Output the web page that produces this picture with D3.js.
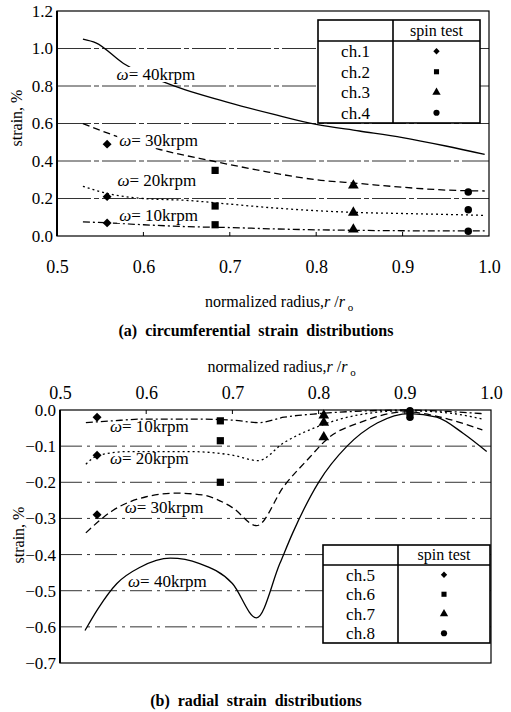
<!DOCTYPE html>
<html>
<head>
<meta charset="utf-8">
<script src="https://cdn.jsdelivr.net/npm/d3@7"></script>
<style>
  body { margin: 0; background: #fff; }
  svg { display: block; font-family: "Liberation Serif", "DejaVu Serif", serif; }
  svg text { font-family: "Liberation Serif", "DejaVu Serif", serif; }
</style>
</head>
<body>
<svg id="chart" width="511" height="712"></svg>
<script>
// ---- data ----
var radiusTicks = [0.5, 0.6, 0.7, 0.8, 0.9, 1.0];
var circTicks = [0.0, 0.2, 0.4, 0.6, 0.8, 1.0, 1.2];
var radialTicks = [0.0, -0.1, -0.2, -0.3, -0.4, -0.5, -0.6, -0.7];
var speedNames = ["10krpm", "20krpm", "30krpm", "40krpm"];

// circumferential strain, simulated curves [r/r0, strain %]
var circ10 = [[0.53,0.075],[0.56,0.07],[0.6,0.06],[0.65,0.05],[0.7,0.045],[0.75,0.038],[0.8,0.033],[0.85,0.03],[0.9,0.028],[0.95,0.027],[0.995,0.027]];
var circ20 = [[0.53,0.265],[0.56,0.225],[0.6,0.20],[0.65,0.19],[0.7,0.17],[0.75,0.15],[0.8,0.135],[0.85,0.125],[0.9,0.12],[0.95,0.115],[0.995,0.11]];
var circ30 = [[0.53,0.60],[0.57,0.53],[0.62,0.46],[0.68,0.40],[0.74,0.345],[0.8,0.30],[0.85,0.28],[0.9,0.26],[0.95,0.245],[0.995,0.24]];
var circ40 = [[0.53,1.05],[0.545,1.03],[0.577,0.92],[0.63,0.81],[0.7,0.71],[0.75,0.65],[0.8,0.595],[0.85,0.56],[0.9,0.525],[0.95,0.48],[0.995,0.435]];
// spin test, channel positions and values for 30, 20, 10 krpm
var circChannels = ["ch.1", "ch.2", "ch.3", "ch.4"];
var circChannelR = [0.558, 0.683, 0.843, 0.976];
var circTest30 = [0.49, 0.35, 0.27, 0.235];
var circTest20 = [0.21, 0.16, 0.125, 0.14];
var circTest10 = [0.07, 0.06, 0.035, 0.025];

// radial strain, simulated curves
var rad10 = [[0.53,-0.035],[0.56,-0.03],[0.6,-0.025],[0.65,-0.025],[0.7,-0.028],[0.73,-0.035],[0.76,-0.02],[0.8,-0.01],[0.85,-0.003],[0.9,0.0],[0.95,-0.004],[0.99,-0.01]];
var rad20 = [[0.53,-0.15],[0.545,-0.125],[0.58,-0.115],[0.65,-0.115],[0.7,-0.125],[0.73,-0.14],[0.76,-0.09],[0.8,-0.045],[0.85,-0.012],[0.9,-0.002],[0.95,-0.008],[0.99,-0.025]];
var rad30 = [[0.53,-0.34],[0.56,-0.28],[0.6,-0.24],[0.635,-0.23],[0.665,-0.235],[0.7,-0.27],[0.728,-0.32],[0.76,-0.21],[0.79,-0.13],[0.81,-0.08],[0.85,-0.033],[0.9,-0.005],[0.95,-0.025],[0.99,-0.055]];
var rad40 = [[0.529,-0.61],[0.544,-0.55],[0.566,-0.48],[0.593,-0.435],[0.628,-0.41],[0.662,-0.425],[0.70,-0.48],[0.728,-0.575],[0.755,-0.425],[0.77,-0.34],[0.8,-0.2],[0.833,-0.1],[0.868,-0.036],[0.906,-0.01],[0.937,-0.02],[0.968,-0.065],[0.995,-0.115]];
var radChannels = ["ch.5", "ch.6", "ch.7", "ch.8"];
var radChannelR = [0.543, 0.686, 0.806, 0.906];
var radTest10 = [-0.02, -0.03, -0.015, -0.002];
var radTest20 = [-0.125, -0.085, -0.035, -0.01];
var radTest30 = [-0.29, -0.2, -0.075, -0.02];

// diamond = square turned 45deg
var symbols = [d3.symbolSquare, d3.symbolSquare, d3.symbolTriangle, d3.symbolCircle];
var symRot = [45, 0, 0, 0];
var markSize = [40, 52, 50, 44];
var legSize = [20, 26, 30, 30];
var dashes = ["7,3,2,3", "2,3", "7,4", null]; // 10, 20, 30, 40 krpm

var svg = d3.select("#chart");

function drawPanel(p) {
    var x = d3.scaleLinear().domain([0.5, 1.0]).range([p.left, p.right]);
    var y = d3.scaleLinear().domain(p.yDomain).range([p.bottom, p.top]);
    var g = svg.append("g");

    // gridlines
    g.selectAll(".grid").data(p.yTicks.filter(function (d) { return d !== p.yDomain[0] && d !== p.yDomain[1]; }))
        .enter().append("line")
        .attr("x1", p.left).attr("x2", p.right)
        .attr("y1", function (d) { return y(d); }).attr("y2", function (d) { return y(d); })
        .attr("stroke", "#333").attr("stroke-width", 1)
        .attr("stroke-dasharray", p.gridDash);

    // curves
    var line = d3.line().x(function (d) { return x(d[0]); }).y(function (d) { return y(d[1]); })
        .curve(d3.curveMonotoneX);
    p.curves.forEach(function (c, i) {
        g.append("path").attr("d", line(c)).attr("fill", "none")
            .attr("stroke", "#000").attr("stroke-width", 1.3)
            .attr("stroke-dasharray", dashes[i]);
    });

    // speed labels
    p.labels.forEach(function (l, i) {
        var t = g.append("text").attr("x", x(l[0])).attr("y", y(l[1]))
            .attr("font-size", 17);
        t.append("tspan").attr("font-style", "italic").text("\u03c9");
        t.append("tspan").text("= " + speedNames[i]);
        if (p.labelBg) {
            var b = t.node().getBBox();
            g.insert("rect", function () { return t.node(); })
                .attr("x", b.x - 2).attr("y", b.y + 2).attr("width", b.width + 4).attr("height", b.height - 4)
                .attr("fill", "#fff");
        }
    });

    // test markers
    p.tests.forEach(function (vals) {
        vals.forEach(function (v, j) {
            g.append("path")
                .attr("d", d3.symbol().type(symbols[j]).size(markSize[j])())
                .attr("transform", "translate(" + x(p.channelR[j]) + "," + y(v) + ") rotate(" + symRot[j] + ")")
                .attr("fill", "#000");
        });
    });

    // frame
    g.append("rect").attr("x", p.left).attr("y", p.top)
        .attr("width", p.right - p.left).attr("height", p.bottom - p.top)
        .attr("fill", "none").attr("stroke", "#000").attr("stroke-width", 1.2);
    g.append("line").attr("x1", p.left).attr("x2", p.left).attr("y1", p.top).attr("y2", p.bottom)
        .attr("stroke", "#000").attr("stroke-width", 2);

    // y axis
    var yAxis = g.append("g").attr("transform", "translate(" + p.left + ",0)")
        .call(d3.axisLeft(y).tickValues(p.yTicks).tickSize(0).tickPadding(4).tickFormat(d3.format(".1f")));
    yAxis.select(".domain").remove();
    yAxis.attr("font-family", null);
    yAxis.selectAll("text").attr("font-size", 17).attr("fill", "#000");

    // x axis labels (placed away from the frame)
    var xAxis = g.append("g").attr("transform", "translate(0," + p.xLabelY + ")")
        .call(d3.axisBottom(x).tickValues(radiusTicks).tickSize(0).tickPadding(0).tickFormat(d3.format(".1f")));
    xAxis.select(".domain").remove();
    xAxis.attr("font-family", null);
    xAxis.selectAll("text").attr("font-size", 18).attr("fill", "#000").attr("dy", "0");

    // small inner ticks on the radius axis
    g.selectAll(".xt").data(radiusTicks.slice(1, -1)).enter().append("line")
        .attr("x1", function (d) { return x(d); }).attr("x2", function (d) { return x(d); })
        .attr("y1", p.tickY).attr("y2", p.tickY + p.tickDir * 4)
        .attr("stroke", "#000");

    // axis titles
    var xt = g.append("text").attr("x", (p.left + p.right) / 2 + 6).attr("y", p.xTitleY)
        .attr("text-anchor", "middle").attr("font-size", 16);
    xt.append("tspan").text("normalized radius,");
    xt.append("tspan").attr("font-style", "italic").text("r");
    xt.append("tspan").text(" /");
    xt.append("tspan").attr("font-style", "italic").text("r");
    xt.append("tspan").attr("font-size", 11).attr("dy", 4).text(" o");

    g.append("text").attr("transform", "translate(" + p.yTitleX + "," + p.yTitleY + ") rotate(-90)")
        .attr("text-anchor", "middle").attr("font-size", 16).text("strain, %");

    // legend table
    var lg = p.legend;
    g.append("rect").attr("x", lg.x0).attr("y", lg.y0).attr("width", lg.x1 - lg.x0).attr("height", lg.y1 - lg.y0)
        .attr("fill", "#fff").attr("stroke", "#000").attr("stroke-width", 1.6);
    g.append("line").attr("x1", lg.x0).attr("x2", lg.x1).attr("y1", lg.yh).attr("y2", lg.yh)
        .attr("stroke", "#000").attr("stroke-width", 1.6);
    g.append("line").attr("x1", lg.xd).attr("x2", lg.xd).attr("y1", lg.y0).attr("y2", lg.y1)
        .attr("stroke", "#000").attr("stroke-width", 1.6);
    g.append("text").attr("x", (lg.xd + lg.x1) / 2).attr("y", lg.yh - 5).attr("text-anchor", "middle")
        .attr("font-size", 16).text("spin test");
    var rowH = (lg.y1 - lg.yh) / 4;
    p.channels.forEach(function (c, j) {
        var cy = lg.yh + rowH * (j + 0.5);
        g.append("text").attr("x", (lg.x0 + lg.xd) / 2).attr("y", cy + 6).attr("text-anchor", "middle")
            .attr("font-size", 17).text(c);
        g.append("path").attr("d", d3.symbol().type(symbols[j]).size(legSize[j])())
            .attr("transform", "translate(" + (lg.xd + lg.x1) / 2 + "," + cy + ") rotate(" + symRot[j] + ")")
            .attr("fill", "#000");
    });

    // caption
    g.append("text").attr("x", 256).attr("y", p.captionY).attr("text-anchor", "middle")
        .attr("font-size", 16).attr("font-weight", "bold").attr("word-spacing", 4).text(p.caption);
}

drawPanel({
    left: 57, right: 489, top: 11, bottom: 236,
    yDomain: [0, 1.2], yTicks: circTicks,
    gridDash: "34,3,5,3",
    curves: [circ10, circ20, circ30, circ40],
    labels: [[0.572, 0.079], [0.570, 0.268], [0.572, 0.479], [0.569, 0.832]],
    labelBg: true,
    tests: [circTest30, circTest20, circTest10],
    channelR: circChannelR, channels: circChannels,
    xLabelY: 273, tickY: 236, tickDir: -1,
    xTitleY: 307, yTitleX: 22, yTitleY: 118,
    legend: {x0: 318, x1: 480, y0: 20, y1: 123, yh: 41, xd: 393},
    caption: "(a) circumferential strain distributions", captionY: 336
});

drawPanel({
    left: 60, right: 491, top: 410, bottom: 663,
    yDomain: [-0.7, 0], yTicks: radialTicks,
    gridDash: "22,5,3,5",
    curves: [rad10, rad20, rad30, rad40],
    labels: [[0.558, -0.061], [0.558, -0.149], [0.575, -0.285], [0.579, -0.49]],
    labelBg: false,
    tests: [radTest10, radTest20, radTest30],
    channelR: radChannelR, channels: radChannels,
    xLabelY: 399, tickY: 410, tickDir: 1,
    xTitleY: 372, yTitleX: 24, yTitleY: 535,
    legend: {x0: 323, x1: 490, y0: 545, y1: 643, yh: 565, xd: 398},
    caption: "(b) radial strain distributions", captionY: 706
});
</script>
</body>
</html>
